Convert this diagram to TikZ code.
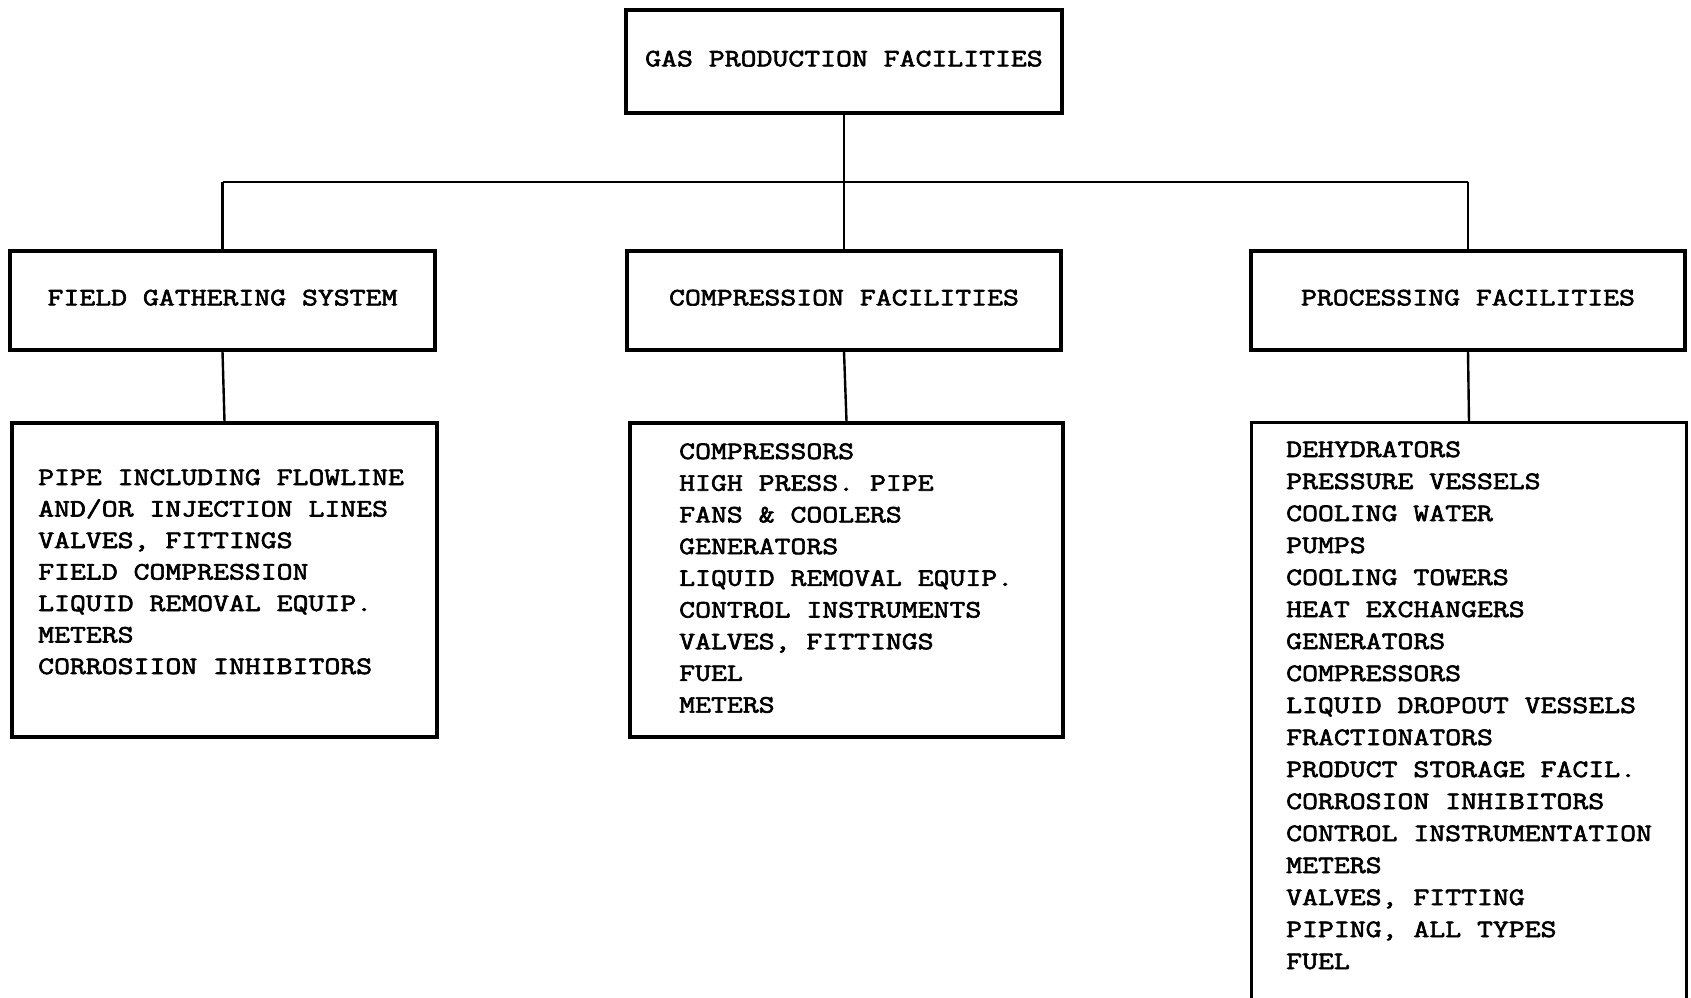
\documentclass[tikz,border=0pt]{standalone}
\usepackage{fontspec}
\newfontfamily\typewriter[FakeStretch=1.235, FakeBold=2.5]{Latin Modern Mono}
\usetikzlibrary{positioning}

\newcommand{\chartfont}{\typewriter\fontsize{25}{31.7}\selectfont}

\tikzset{
  box/.style={draw, line width=3.2pt, inner sep=0pt, text depth=6pt, font=\chartfont},
  listbox/.style={draw, line width=3.2pt, inner sep=0pt},
  item/.style={anchor=base west, inner sep=0pt, font=\chartfont},
  conn/.style={line width=2.4pt},
  bus/.style={line width=2pt}
}

\begin{document}
\begin{tikzpicture}[x=1pt, y=-1pt]
  \useasboundingbox (0,0) rectangle (1691,997);

  % top
  \node[box, minimum width=436pt, minimum height=103pt] (gpf) at (844,61.5) {GAS PRODUCTION FACILITIES};

  % middle row
  \node[box, minimum width=425pt, minimum height=99pt] (fgs) at (222.5,300.5) {FIELD GATHERING SYSTEM};
  \node[box, minimum width=434pt, minimum height=99pt] (comp) at (844,300.5) {COMPRESSION FACILITIES};
  \node[box, minimum width=434pt, minimum height=99pt] (proc) at (1468,300.5) {PROCESSING FACILITIES};

  % lists
  \node[listbox, minimum width=425pt, minimum height=314pt] (fglist) at (224.5,580) {};
  \node[listbox, minimum width=433pt, minimum height=314pt] (complist) at (846.5,580) {};
  \node[listbox, draw=none, minimum width=432pt, minimum height=586pt] (proclist) at (1469,717) {};
  \draw[line width=3.2pt] (proclist.south west) -- (proclist.north west) -- (proclist.north east) -- (proclist.south east);

  \foreach \txt [count=\i] in {PIPE INCLUDING FLOWLINE, AND/OR INJECTION LINES, {VALVES, FITTINGS}, FIELD COMPRESSION, LIQUID REMOVAL EQUIP., METERS, CORROSIION INHIBITORS}
    \node[item] (fg-\i) at (38,{485+31.5*(\i-1)}) {\txt};

  \foreach \txt [count=\i] in {COMPRESSORS, HIGH PRESS. PIPE, FANS \& COOLERS, GENERATORS, LIQUID REMOVAL EQUIP., CONTROL INSTRUMENTS, {VALVES, FITTINGS}, FUEL, METERS}
    \node[item] (cp-\i) at (679,{459+31.7*(\i-1)}) {\txt};

  \foreach \txt [count=\i] in {DEHYDRATORS, PRESSURE VESSELS, COOLING WATER, PUMPS, COOLING TOWERS, HEAT EXCHANGERS, GENERATORS, COMPRESSORS, LIQUID DROPOUT VESSELS, FRACTIONATORS, PRODUCT STORAGE FACIL., CORROSION INHIBITORS, CONTROL INSTRUMENTATION, METERS, {VALVES, FITTING}, {PIPING, ALL TYPES}, FUEL}
    \node[item] (pr-\i) at (1286,{457+32*(\i-1)}) {\txt};

  % connectors
  \coordinate (busL) at (fgs.north |- 0,182);
  \coordinate (busR) at (proc.north |- 0,182);
  \draw[bus] (busL) -- (busR);
  \draw[conn] (gpf.south) -- (comp.north);
  \draw[conn] (busL) -- (fgs.north);
  \draw[conn] (busR) -- (proc.north);
  \draw[conn] (fgs.south) -- (fglist.north);
  \draw[conn] (comp.south) -- (complist.north);
  \draw[conn] (proc.south) -- (proclist.north);
\end{tikzpicture}
\end{document}
